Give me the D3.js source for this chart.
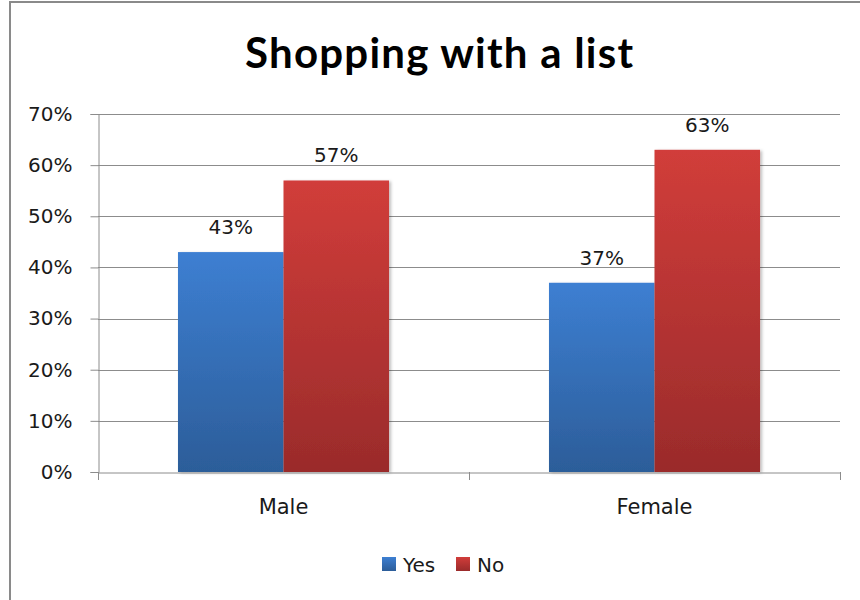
<!DOCTYPE html>
<html>
<head>
<meta charset="utf-8">
<script src="https://cdn.jsdelivr.net/npm/d3@7/dist/d3.min.js"></script>
<style>
  html, body { margin: 0; padding: 0; background: #fff; }
  svg { display: block; }
</style>
</head>
<body>
<svg id="chart" width="860" height="600"></svg>
<script>
// Survey results: shopping with a list, by gender
const categories = ["Male", "Female"];
const seriesNames = ["Yes", "No"];
const yesValues = [43, 37];
const noValues = [57, 63];
const yTicks = [0, 10, 20, 30, 40, 50, 60, 70];
const titleText = "Shopping with a list";

const seriesValues = [yesValues, noValues];
const rows = categories.map((c, i) => ({
  category: c,
  values: seriesNames.map((s, k) => ({ series: s, value: seriesValues[k][i] }))
}));

const svg = d3.select("#chart");
const W = 860, H = 600;
const plot = { left: 98, right: 840, top: 114, bottom: 472 };
const labelFont = "'DejaVu Sans', sans-serif";

const colors = {
  Yes: { top: "#3d7fd2", bottom: "#2c5d99" },
  No:  { top: "#d13d3a", bottom: "#9a2b2b" }
};

const defs = svg.append("defs");
seriesNames.forEach(s => {
  const g = defs.append("linearGradient")
    .attr("id", "grad-" + s)
    .attr("x1", 0).attr("y1", 0).attr("x2", 0).attr("y2", 1);
  g.append("stop").attr("offset", "0%").attr("stop-color", colors[s].top);
  g.append("stop").attr("offset", "100%").attr("stop-color", colors[s].bottom);
});
const shadow = defs.append("filter").attr("id", "barShadow")
  .attr("x", "-10%").attr("y", "-10%").attr("width", "130%").attr("height", "120%");
shadow.append("feDropShadow")
  .attr("dx", 2).attr("dy", 1).attr("stdDeviation", 1.5)
  .attr("flood-color", "#000").attr("flood-opacity", 0.25);

// Chart frame
svg.append("rect")
  .attr("x", 10).attr("y", 2)
  .attr("width", W + 20).attr("height", H + 20)
  .attr("fill", "#fff")
  .attr("stroke", "#8a8a8a").attr("stroke-width", 2);

// Scales
const x0 = d3.scaleBand().domain(categories).range([plot.left, plot.right]).padding(0);
const x1 = d3.scaleBand().domain(seriesNames).range([0, x0.bandwidth()])
  .paddingInner(0).paddingOuter(0.758);
const y = d3.scaleLinear().domain([0, 70]).range([plot.bottom, plot.top]);

// Gridlines
svg.append("g")
  .selectAll("line")
  .data(yTicks.filter(t => t > 0))
  .join("line")
  .attr("x1", plot.left).attr("x2", plot.right)
  .attr("y1", d => Math.round(y(d)) + 0.5).attr("y2", d => Math.round(y(d)) + 0.5)
  .attr("stroke", "#8c8c8c").attr("stroke-width", 1);

// Y axis
const yAxis = svg.append("g")
  .attr("transform", `translate(${plot.left + 0.5},0)`)
  .call(d3.axisLeft(y).tickValues(yTicks).tickSize(8).tickPadding(18)
    .tickFormat(d => d + "%"));
yAxis.selectAll("path, line").attr("stroke", "#8c8c8c");
yAxis.selectAll("text")
  .attr("font-family", labelFont).attr("font-size", 20).attr("fill", "#1a1a1a");

// Bars
const groups = svg.append("g")
  .selectAll("g")
  .data(rows)
  .join("g")
  .attr("transform", d => `translate(${x0(d.category)},0)`);

groups.selectAll("rect")
  .data(d => d.values)
  .join("rect")
  .attr("x", d => x1(d.series))
  .attr("y", d => y(d.value))
  .attr("width", x1.bandwidth())
  .attr("height", d => y(0) - y(d.value))
  .attr("fill", d => `url(#grad-${d.series})`)
  .attr("filter", "url(#barShadow)");

groups.selectAll("text")
  .data(d => d.values)
  .join("text")
  .attr("x", d => x1(d.series) + x1.bandwidth() / 2)
  .attr("y", d => y(d.value) - 18)
  .attr("text-anchor", "middle")
  .attr("font-family", labelFont).attr("font-size", 20).attr("fill", "#1a1a1a")
  .text(d => d.value + "%");

// X axis
const xAxis = svg.append("g")
  .attr("transform", `translate(0,${plot.bottom + 0.5})`)
  .call(d3.axisBottom(x0).tickSize(0).tickPadding(27));
xAxis.select("path").attr("stroke", "#8c8c8c");
xAxis.selectAll("text")
  .attr("font-family", labelFont).attr("font-size", 21).attr("fill", "#1a1a1a");
svg.append("g")
  .selectAll("line")
  .data([plot.left, x0("Female"), plot.right])
  .join("line")
  .attr("x1", d => Math.round(d) + 0.5).attr("x2", d => Math.round(d) + 0.5)
  .attr("y1", plot.bottom).attr("y2", plot.bottom + 8)
  .attr("stroke", "#8c8c8c");

// Title
svg.append("text")
  .attr("x", 439).attr("y", 68)
  .attr("text-anchor", "middle")
  .attr("font-family", "Lato, 'Open Sans', sans-serif")
  .attr("font-weight", "bold").attr("font-size", 42).attr("fill", "#000")
  .attr("textLength", 388).attr("lengthAdjust", "spacing")
  .text(titleText);

// Legend
const legend = svg.append("g").attr("transform", "translate(382,557)");
const legendOffsets = [0, 74];
seriesNames.forEach((s, i) => {
  const item = legend.append("g").attr("transform", `translate(${legendOffsets[i]},0)`);
  item.append("rect").attr("width", 14).attr("height", 14)
    .attr("fill", `url(#grad-${s})`);
  item.append("text").attr("x", 21).attr("y", 15)
    .attr("font-family", labelFont).attr("font-size", 20).attr("fill", "#1a1a1a")
    .text(s);
});
</script>
</body>
</html>
